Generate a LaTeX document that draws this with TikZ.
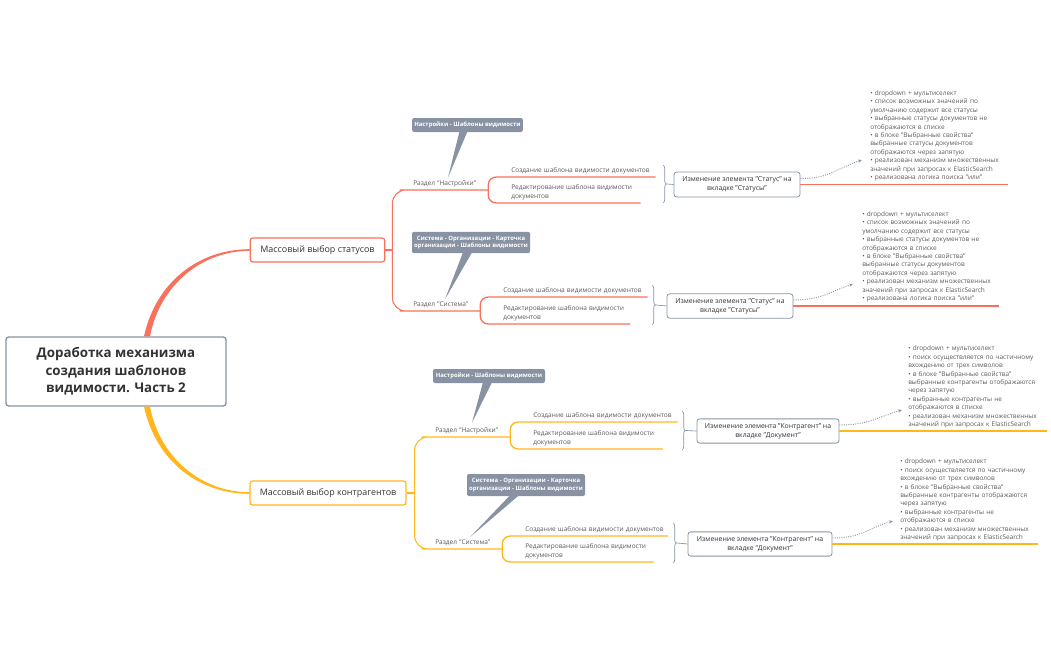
\documentclass[tikz,border=0pt]{standalone}
\usepackage{fontspec}
\setmainfont{Open Sans}
\usepackage{tikz}
\usetikzlibrary{arrows.meta,calc}
\usetikzlibrary{decorations.pathreplacing}
\definecolor{cRed}{RGB}{249,112,92}
\definecolor{cOrg}{RGB}{255,183,28}
\definecolor{cBox}{RGB}{135,146,168}
\definecolor{cCall}{RGB}{137,146,163}
\definecolor{cText}{RGB}{51,51,51}
\definecolor{cGray}{RGB}{90,90,90}
\newcommand{\rootfont}{\fontsize{10}{13}\selectfont\bfseries}
\newcommand{\msfont}{\fontsize{6.7}{8}\selectfont}
\newcommand{\lblfont}{\fontsize{4.9}{6.75}\selectfont}
\newcommand{\elemfont}{\fontsize{5.15}{6.6}\selectfont}
\newcommand{\notefont}{\fontsize{4.85}{6.3}\selectfont}
\newcommand{\callfont}{\fontsize{4.45}{5.8}\selectfont\bfseries}
\tikzset{
  root/.style={draw=cBox,line width=1pt,rounded corners=2pt,fill=white,align=center,
    font=\rootfont,text=cText,minimum width=165pt,minimum height=51.75pt},
  msbox/.style={draw=#1,line width=0.9pt,rounded corners=2pt,fill=white,
    font=\msfont,text=cText,minimum height=18pt},
  lbl/.style={anchor=south west,inner xsep=0pt,inner ysep=2pt,align=left,
    font=\lblfont,text=cGray},
  elem/.style={draw=cBox,line width=0.6pt,rounded corners=2pt,fill=white,align=center,
    font=\elemfont,text=cText,minimum height=18pt},
  notes/.style={anchor=south west,inner xsep=0pt,inner ysep=2pt,align=left,
    font=\notefont,text=cGray},
  callout/.style={fill=cCall,rounded corners=1.5pt,text=white,align=center,
    font=\callfont,inner sep=1pt},
  brc/.style={draw=cBox,line width=0.5pt,decorate,decoration={brace,amplitude=2.5pt}},
  hint/.style={draw=cBox,densely dotted,line width=0.7pt,-{Stealth[length=3pt,width=2.5pt]}}
}
\newcommand{\lblnode}{\node[lbl]}
\newcommand{\notenode}{\node[notes]}
\begin{document}
\begin{tikzpicture}[x=0.75pt,y=-0.75pt]
  \useasboundingbox (0,0) rectangle (1051,650);
  % main topics
  \node[msbox=cRed,minimum width=101pt] (ms1) at (317.5,250) {Массовый выбор статусов};
  \node[msbox=cOrg,minimum width=117pt] (ms2) at (328,493) {Массовый выбор контрагентов};
  \node[root] (root) at (116,371.5) {Доработка механизма\\создания шаблонов\\видимости. Часть 2};
  \fill[cRed] ($(root.north)+(28,0)$) .. controls +(12,-55) and +(-50,0) .. ([yshift=0.6pt]ms1.west)
    -- ([yshift=-0.6pt]ms1.west) .. controls +(-47,0) and +(10,-52) .. ($(root.north)+(34,0)$) -- cycle;
  \fill[cOrg] ($(root.south)+(28,0)$) .. controls +(12,55) and +(-50,0) .. ([yshift=-0.6pt]ms2.west)
    -- ([yshift=0.6pt]ms2.west) .. controls +(-47,0) and +(10,52) .. ($(root.south)+(34,0)$) -- cycle;

  % statuses
  \draw[cRed,line width=0.9pt] (ms1.east) -- ++(7,0) coordinate (j1);
  \lblnode[text width=56pt] (r1a) at (413,190) {Раздел "Настройки"};
  \lblnode[text width=50pt] (r1b) at (413,311) {Раздел "Система"};
  \draw[cRed,line width=0.8pt,rounded corners=10pt] (j1) |- (r1a.south west) -- (r1a.south east);
  \draw[cRed,line width=0.8pt,rounded corners=10pt] (j1) |- (r1b.south west) -- (r1b.south east);
  \node[callout,minimum width=83pt,minimum height=10.5pt] (k1a) at (467.5,125) {Настройки - Шаблоны видимости};
  \fill[cCall] ($(k1a.south)+(-8,-1)$) -- ($(r1a.north west)+(35,0)$) -- ($(k1a.south)+(0,-1)$) -- cycle;
  \node[callout,minimum width=88.5pt,minimum height=16pt] (k1b) at (471,242.5) {Система - Организации - Карточка\\организации - Шаблоны видимости};
  \fill[cCall] ($(k1b.south)+(-8,-1)$) -- ($(r1b.north west)+(32,0)$) -- ($(k1b.south)+(1,-1)$) -- cycle;

  \lblnode[text width=108pt] (c1a) at (511,177) {Создание шаблона видимости документов};
  \lblnode[text width=96.75pt] (e1a) at (511,203) {Редактирование шаблона видимости\\документов};
  \draw[cRed,line width=1pt,rounded corners=6pt] (r1a.south east) |- (c1a.south west) -- (c1a.south east);
  \draw[cRed,line width=1pt,rounded corners=6pt] (r1a.south east) |- (e1a.south west) -- (e1a.south east);
  \coordinate (bt1a) at (663,165);
  \coordinate (bb1a) at (663,203);
  \draw[brc] (bt1a) -- (bb1a);
  \node[elem,minimum width=94.5pt,minimum height=18.75pt] (t1a) at (737,184.5) {Изменение элемента "Статус" на\\вкладке "Статусы"};
  \draw[cBox,line width=0.5pt] ($(bt1a)!0.5!(bb1a)+(4,0)$) -- (t1a.west);
  \notenode[text width=103pt] (n1a) at (870,184) {• dropdown + мультиселект\\• список возможных значений по\\умолчанию содержит все статусы\\• выбранные статусы документов не\\отображаются в списке\\• в блоке "Выбранные свойства"\\выбранные статусы документов\\отображаются через запятую\\• реализован механизм множественных\\значений при запросах к ElasticSearch\\• реализована логика поиска "или"};
  \draw[cRed,line width=1.1pt] (t1a.east) -- (t1a.east -| n1a.south east);
  \draw[hint] ($(t1a.east)+(0,-6)$) .. controls +(30,0) and +(-25,8) .. ($(n1a.south west)+(-8,-24)$);

  \lblnode[text width=108pt] (c1b) at (503,297) {Создание шаблона видимости документов};
  \lblnode[text width=95pt] (e1b) at (503,324) {Редактирование шаблона видимости\\документов};
  \draw[cRed,line width=1pt,rounded corners=6pt] (r1b.south east) |- (c1b.south west) -- (c1b.south east);
  \draw[cRed,line width=1pt,rounded corners=6pt] (r1b.south east) |- (e1b.south west) -- (e1b.south east);
  \coordinate (bt1b) at (652,285);
  \coordinate (bb1b) at (652,325);
  \draw[brc] (bt1b) -- (bb1b);
  \node[elem,minimum width=94.5pt] (t1b) at (730,306) {Изменение элемента "Статус" на\\вкладке "Статусы"};
  \draw[cBox,line width=0.5pt] ($(bt1b)!0.5!(bb1b)+(4,0)$) -- (t1b.west);
  \notenode[text width=102pt] (n1b) at (862,305) {• dropdown + мультиселект\\• список возможных значений по\\умолчанию содержит все статусы\\• выбранные статусы документов не\\отображаются в списке\\• в блоке "Выбранные свойства"\\выбранные статусы документов\\отображаются через запятую\\• реализован механизм множественных\\значений при запросах к ElasticSearch\\• реализована логика поиска "или"};
  \draw[cRed,line width=1.1pt] (t1b.east) -- (t1b.east -| n1b.south east);
  \draw[hint] ($(t1b.east)+(0,-6)$) .. controls +(28,0) and +(-24,8) .. ($(n1b.south west)+(-9,-21)$);

  % contractors
  \draw[cOrg,line width=0.9pt] (ms2.east) -- ++(8,0) coordinate (j2);
  \lblnode[text width=56pt] (r2a) at (435,437) {Раздел "Настройки"};
  \lblnode[text width=50pt] (r2b) at (435,549) {Раздел "Система"};
  \draw[cOrg,line width=0.8pt,rounded corners=10pt] (j2) |- (r2a.south west) -- (r2a.south east);
  \draw[cOrg,line width=0.8pt,rounded corners=10pt] (j2) |- (r2b.south west) -- (r2b.south east);
  \node[callout,minimum width=84pt,minimum height=10.5pt] (k2a) at (489,376) {Настройки - Шаблоны видимости};
  \fill[cCall] ($(k2a.south)+(-6,-1)$) -- ($(r2a.north west)+(37,-2)$) -- ($(k2a.south)+(3,-1)$) -- cycle;
  \node[callout,minimum width=88.5pt,minimum height=16.5pt] (k2b) at (526,485) {Система - Организации - Карточка\\организации - Шаблоны видимости};
  \fill[cCall] ($(k2b.south)+(-16,-1)$) -- ($(r2b.north west)+(35,0)$) -- ($(k2b.south)+(-7,-1)$) -- cycle;

  \lblnode[text width=108pt] (c2a) at (533,422) {Создание шаблона видимости документов};
  \lblnode[text width=97pt] (e2a) at (533,449) {Редактирование шаблона видимости\\документов};
  \draw[cOrg,line width=1pt,rounded corners=6pt] (r2a.south east) |- (c2a.south west) -- (c2a.south east);
  \draw[cOrg,line width=1pt,rounded corners=6pt] (r2a.south east) |- (e2a.south west) -- (e2a.south east);
  \coordinate (bt2a) at (682,411);
  \coordinate (bb2a) at (682,450);
  \draw[brc] (bt2a) -- (bb2a);
  \node[elem,minimum width=106.5pt] (t2a) at (768,431) {Изменение элемента "Контрагент" на\\вкладке "Документ"};
  \draw[cBox,line width=0.5pt] ($(bt2a)!0.5!(bb2a)+(4,0)$) -- (t2a.west);
  \notenode[text width=104pt] (n2a) at (908,431) {• dropdown + мультиселект\\• поиск осуществляется по частичному\\вхождению от трех символов\\• в блоке "Выбранные свойства"\\выбранные контрагенты отображаются\\через запятую\\• выбранные контрагенты не\\отображаются в списке\\• реализован механизм множественных\\значений при запросах к ElasticSearch};
  \draw[cOrg,line width=1.1pt] (t2a.east) -- (t2a.east -| n2a.south east);
  \draw[hint] ($(t2a.east)+(0,-6)$) .. controls +(30,0) and +(-25,7) .. ($(n2a.south west)+(-6,-21)$);

  \lblnode[text width=107pt] (c2b) at (525,536) {Создание шаблона видимости документов};
  \lblnode[text width=96pt] (e2b) at (525,562) {Редактирование шаблона видимости\\документов};
  \draw[cOrg,line width=1pt,rounded corners=6pt] (r2b.south east) |- (c2b.south west) -- (c2b.south east);
  \draw[cOrg,line width=1pt,rounded corners=6pt] (r2b.south east) |- (e2b.south west) -- (e2b.south east);
  \coordinate (bt2b) at (673,523);
  \coordinate (bb2b) at (673,563);
  \draw[brc] (bt2b) -- (bb2b);
  \node[elem,minimum width=108pt] (t2b) at (760,544) {Изменение элемента "Контрагент" на\\вкладке "Документ"};
  \draw[cBox,line width=0.5pt] ($(bt2b)!0.5!(bb2b)+(4,0)$) -- (t2b.west);
  \notenode[text width=103pt] (n2b) at (900,544) {• dropdown + мультиселект\\• поиск осуществляется по частичному\\вхождению от трех символов\\• в блоке "Выбранные свойства"\\выбранные контрагенты отображаются\\через запятую\\• выбранные контрагенты не\\отображаются в списке\\• реализован механизм множественных\\значений при запросах к ElasticSearch};
  \draw[cOrg,line width=1.1pt] (t2b.east) -- (t2b.east -| n2b.south east);
  \draw[hint] ($(t2b.east)+(0,-6)$) .. controls +(30,0) and +(-25,7) .. ($(n2b.south west)+(-7,-23)$);
\end{tikzpicture}
\end{document}
